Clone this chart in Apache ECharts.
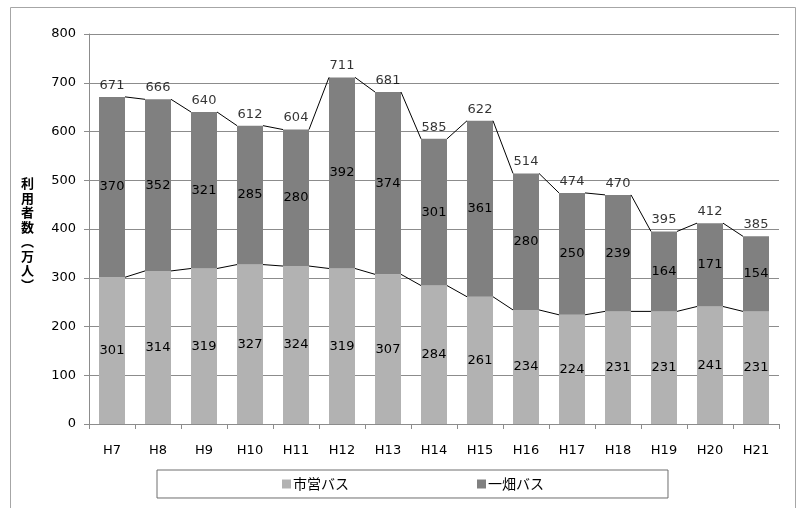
<!DOCTYPE html>
<html>
<head>
<meta charset="utf-8">
<script src="https://cdn.jsdelivr.net/npm/echarts@6/dist/echarts.min.js"></script>
<style>
  html, body { margin: 0; padding: 0; background: #fff; }
  #chart { width: 801px; height: 508px; }
</style>
</head>
<body>
<div id="chart"></div>
<script>
// 年度
var years = ['H7','H8','H9','H10','H11','H12','H13','H14','H15','H16','H17','H18','H19','H20','H21'];
// 市営バス（万人）
var shiei = [301,314,319,327,324,319,307,284,261,234,224,231,231,241,231];
// 一畑バス（万人）
var ichibata = [370,352,321,285,280,392,374,301,361,280,250,239,164,171,154];
// 合計
var totals = shiei.map(function (v, i) { return v + ichibata[i]; });
var yTicks = { min: 0, max: 800, interval: 100 };

var BAR_W = 26;

// 区分線用のデータ [i, 下段i, 下段i+1, 合計i, 合計i+1]
var linkData = [];
for (var i = 0; i < years.length - 1; i++) {
    linkData.push([i, shiei[i], shiei[i + 1], totals[i], totals[i + 1]]);
}

var mchart = echarts.init(document.getElementById('chart'));
var labelFont = 'DejaVu Sans';
var option = {
    animation: false,
    color: ['#b2b2b2', '#808080'],
    grid: { left: 89, right: 22, top: 34, bottom: 84 },
    graphic: [
        {   // 外枠
            type: 'rect',
            shape: { x: 10.5, y: 7.5, width: 785, height: 530 },
            style: { fill: 'none', stroke: '#a6a6a6', lineWidth: 1 },
            silent: true
        },
        {   // 縦軸タイトル
            type: 'text',
            left: 21,
            top: 176,
            style: {
                text: '利\n用\n者\n数\n︵\n万\n人\n︶',
                font: 'bold 13px "Noto Sans CJK JP"',
                lineHeight: 14.5,
                fill: '#000',
                align: 'center'
            }
        }
    ],
    legend: {
        left: 157,
        top: 470,
        padding: [7, 124, 7, 125],
        itemGap: 128,
        itemWidth: 9,
        itemHeight: 9,
        icon: 'rect',
        borderColor: '#6e6e6e',
        borderWidth: 1,
        textStyle: { fontFamily: '"Noto Sans CJK JP"', fontSize: 14, color: '#000', padding: [0, 0, 0, -3] },
        data: ['市営バス', '一畑バス']
    },
    xAxis: {
        type: 'category',
        data: years,
        axisLine: { lineStyle: { color: '#8c8c8c' } },
        axisTick: { show: true, length: 5, lineStyle: { color: '#8c8c8c' } },
        axisLabel: { fontFamily: labelFont, fontSize: 13, color: '#000', margin: 20 }
    },
    yAxis: {
        type: 'value',
        min: yTicks.min,
        max: yTicks.max,
        interval: yTicks.interval,
        axisLine: { show: true, lineStyle: { color: '#8c8c8c' } },
        axisTick: { show: true, length: 5, lineStyle: { color: '#8c8c8c' } },
        axisLabel: { fontFamily: labelFont, fontSize: 13, color: '#000', margin: 13 },
        splitLine: { lineStyle: { color: '#8c8c8c', width: 1 } }
    },
    series: [
        {
            name: '市営バス',
            type: 'bar',
            stack: 'bus',
            barWidth: BAR_W,
            data: shiei,
            label: {
                show: true, position: 'inside',
                fontFamily: labelFont, fontSize: 13, color: '#000'
            }
        },
        {
            name: '一畑バス',
            type: 'bar',
            stack: 'bus',
            barWidth: BAR_W,
            data: ichibata,
            label: {
                show: true, position: 'inside',
                fontFamily: labelFont, fontSize: 13, color: '#000'
            }
        },
        {   // 合計ラベル
            name: '合計',
            type: 'scatter',
            symbolSize: 0,
            silent: true,
            data: totals,
            label: {
                show: true, position: 'top', distance: 5,
                fontFamily: labelFont, fontSize: 13, color: '#000'
            },
            z: 5
        },
        {   // 区分線
            name: 'lines',
            type: 'custom',
            silent: true,
            data: linkData,
            z: 6,
            renderItem: function (params, api) {
                var idx = api.value(0);
                var half = BAR_W / 2;
                var a1 = api.coord([idx, api.value(1)]);
                var a2 = api.coord([idx + 1, api.value(2)]);
                var b1 = api.coord([idx, api.value(3)]);
                var b2 = api.coord([idx + 1, api.value(4)]);
                var st = { stroke: '#000', lineWidth: 1 };
                return {
                    type: 'group',
                    children: [
                        { type: 'line', shape: { x1: a1[0] + half, y1: a1[1], x2: a2[0] - half, y2: a2[1] }, style: st },
                        { type: 'line', shape: { x1: b1[0] + half, y1: b1[1], x2: b2[0] - half, y2: b2[1] }, style: st }
                    ]
                };
            }
        }
    ]
};
mchart.setOption(option);
</script>
</body>
</html>
